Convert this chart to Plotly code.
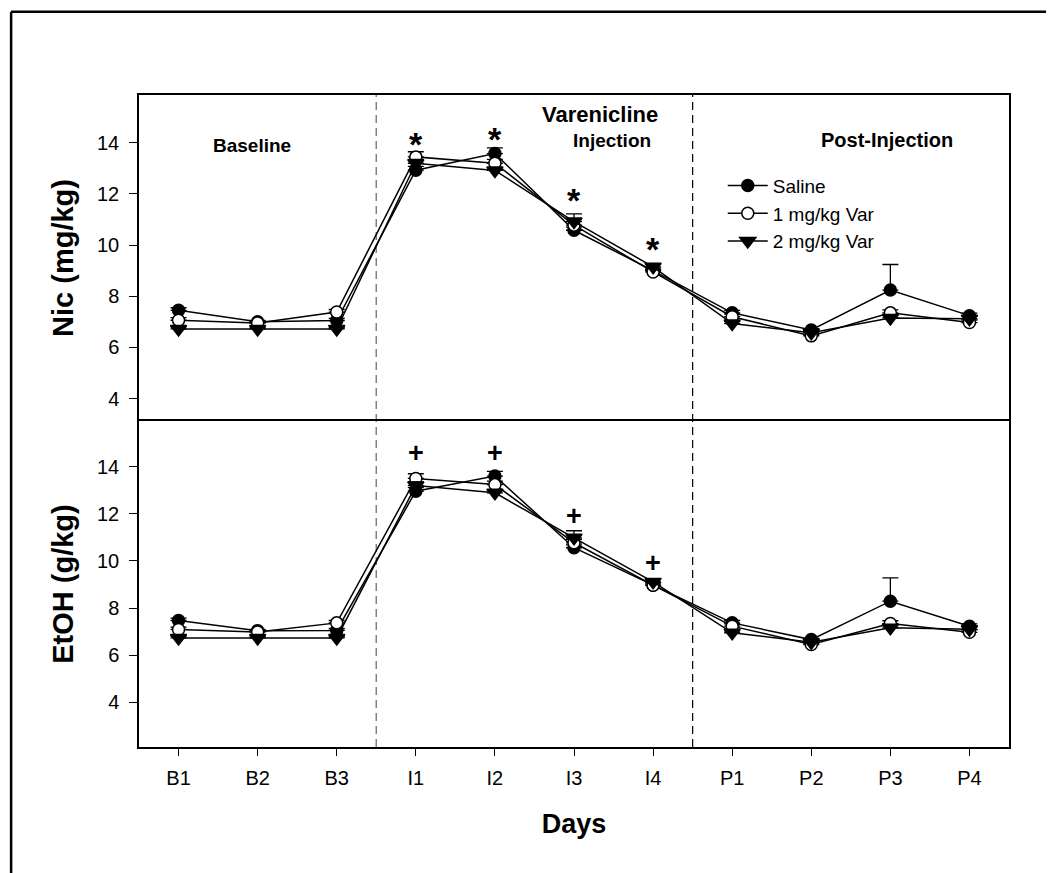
import plotly.graph_objects as go
from plotly.subplots import make_subplots

# ---------------- data ----------------
categories = ["B1", "B2", "B3", "I1", "I2", "I3", "I4", "P1", "P2", "P3", "P4"]
series_names = ["Saline", "1 mg/kg Var", "2 mg/kg Var"]

nic_saline = [7.45, 7.00, 7.05, 12.93, 13.58, 10.58, 9.00, 7.35, 6.68, 8.24, 7.24]
nic_1mg = [7.06, 6.95, 7.38, 13.45, 13.20, 10.78, 8.95, 7.20, 6.45, 7.35, 6.97]
nic_2mg = [6.72, 6.72, 6.72, 13.20, 12.92, 10.92, 9.15, 6.93, 6.57, 7.15, 7.12]
nic_saline_err = [0.10, 0.05, 0.08, 0.15, 0.22, 0.12, 0.10, 0.10, 0.05, 1.00, 0.10]
nic_1mg_err = [0.10, 0.08, 0.10, 0.20, 0.15, 0.15, 0.10, 0.10, 0.05, 0.12, 0.10]
nic_2mg_err = [0.08, 0.05, 0.05, 0.15, 0.10, 0.30, 0.10, 0.08, 0.05, 0.10, 0.10]

etoh_saline = [7.47, 7.04, 7.05, 12.96, 13.60, 10.56, 8.97, 7.37, 6.66, 8.29, 7.23]
etoh_1mg = [7.09, 6.98, 7.37, 13.50, 13.24, 10.77, 8.97, 7.23, 6.45, 7.34, 6.97]
etoh_2mg = [6.73, 6.73, 6.73, 13.20, 12.89, 10.98, 9.11, 6.95, 6.55, 7.16, 7.10]
etoh_saline_err = [0.10, 0.05, 0.08, 0.15, 0.20, 0.12, 0.10, 0.10, 0.05, 0.99, 0.10]
etoh_1mg_err = [0.10, 0.08, 0.10, 0.20, 0.15, 0.15, 0.10, 0.10, 0.05, 0.12, 0.10]
etoh_2mg_err = [0.08, 0.05, 0.05, 0.15, 0.10, 0.30, 0.10, 0.08, 0.05, 0.10, 0.10]

sig_days = ["I1", "I2", "I3", "I4"]
nic_star_y = [14.23, 14.43, 12.02, 10.13]
etoh_plus_y = [14.59, 14.59, 11.90, 9.92]

phase_breaks = [2.5, 6.5]
y_ticks = [4, 6, 8, 10, 12, 14]

FONT = "Liberation Sans, Arial, sans-serif"

fig = make_subplots(rows=2, cols=1, shared_xaxes=True, vertical_spacing=0)

styles = [
    dict(symbol="circle", color="black", size=12),
    dict(symbol="circle", color="white", size=12),
    dict(symbol="triangle-down", color="black", size=14),
]

panels = [
    (1, [nic_saline, nic_1mg, nic_2mg], [nic_saline_err, nic_1mg_err, nic_2mg_err]),
    (2, [etoh_saline, etoh_1mg, etoh_2mg], [etoh_saline_err, etoh_1mg_err, etoh_2mg_err]),
]

for row, vals, errs in panels:
    for i, (name, v, e, st) in enumerate(zip(series_names, vals, errs, styles)):
        fig.add_trace(
            go.Scatter(
                x=categories, y=v, name=name, mode="lines+markers",
                showlegend=(row == 1),
                line=dict(color="black", width=1.5),
                marker=dict(symbol=st["symbol"], size=st["size"], color=st["color"],
                            line=dict(color="black", width=1.5)),
                error_y=dict(type="data", array=e, arrayminus=[0] * len(e), symmetric=False,
                             color="black", thickness=1.3, width=8),
            ),
            row=row, col=1,
        )

# significance marks
for d, yv in zip(sig_days, nic_star_y):
    fig.add_annotation(x=d, y=yv, text="<b>*</b>", showarrow=False, xref="x", yref="y",
                       yshift=-7, font=dict(family=FONT, size=34, color="black"))
for d, yv in zip(sig_days, etoh_plus_y):
    fig.add_annotation(x=d, y=yv, text="<b>+</b>", showarrow=False, xref="x2", yref="y2",
                       font=dict(family=FONT, size=27, color="black"))

# phase labels
phase_labels = [
    ("<b>Baseline</b>", 0.93, 13.91, 19),
    ("<b>Varenicline</b>", 5.33, 15.12, 22),
    ("<b>Injection</b>", 5.48, 14.10, 19),
    ("<b>Post-Injection</b>", 8.96, 14.10, 20),
]
for t, xx, yy, fs in phase_labels:
    fig.add_annotation(x=xx, y=yy, text=t, showarrow=False, xref="x", yref="y",
                       font=dict(family=FONT, size=fs, color="black"))

# dashed phase separators spanning both panels
dash_colors = ["#808080", "black"]
dash_widths = [1.5, 1.2]
for xb, c, w in zip(phase_breaks, dash_colors, dash_widths):
    fig.add_shape(type="line", xref="x", yref="paper", x0=xb, x1=xb, y0=0, y1=1,
                  line=dict(color=c, width=w, dash="8px,5px"), layer="below")

# outer frame (top and left edges)
fig.add_shape(type="line", xref="paper", yref="paper", x0=-0.147, x1=1.1, y0=1.1275, y1=1.1275,
              line=dict(color="black", width=2.5))
fig.add_shape(type="line", xref="paper", yref="paper", x0=-0.147, x1=-0.147, y0=1.1275, y1=-0.25,
              line=dict(color="black", width=2.5))

axis_common = dict(showline=True, linecolor="black", linewidth=1.5,
                   showgrid=False, zeroline=False)

fig.update_xaxes(**axis_common, range=[-0.5, 10.5], type="category")
fig.update_xaxes(row=1, col=1, ticks="", showticklabels=False, side="top", mirror=False)
fig.update_xaxes(row=2, col=1, mirror=True, ticks="outside", ticklen=7, tickwidth=1.3,
                 tickcolor="black", ticklabelstandoff=5,
                 tickfont=dict(family=FONT, size=20, color="black"),
                 title=dict(text="<b>Days</b>", font=dict(family=FONT, size=27, color="black"),
                            standoff=26))

fig.update_yaxes(**axis_common, mirror=True, tickvals=y_ticks, ticks="outside", ticklen=8,
                 tickwidth=1.3, tickcolor="black",
                 tickfont=dict(family=FONT, size=20, color="black"),
                 ticklabelstandoff=6)
fig.update_yaxes(row=1, col=1, range=[3.12, 15.87],
                 title=dict(text="<b>Nic (mg/kg)</b>", font=dict(family=FONT, size=29, color="black"),
                            standoff=15))
fig.update_yaxes(row=2, col=1, range=[2.10, 15.94],
                 title=dict(text="<b>EtOH (g/kg)</b>", font=dict(family=FONT, size=29, color="black"),
                            standoff=15))

fig.update_layout(
    width=1054, height=873,
    margin=dict(l=131, r=53, t=87, b=134),
    paper_bgcolor="white", plot_bgcolor="white",
    font=dict(family=FONT, color="black"),
    legend=dict(x=0.671, y=0.89, xanchor="left", yanchor="top",
                bgcolor="rgba(0,0,0,0)", font=dict(family=FONT, size=19, color="black"),
                itemwidth=40, tracegroupgap=0),
)

fig.write_html("out.html")
